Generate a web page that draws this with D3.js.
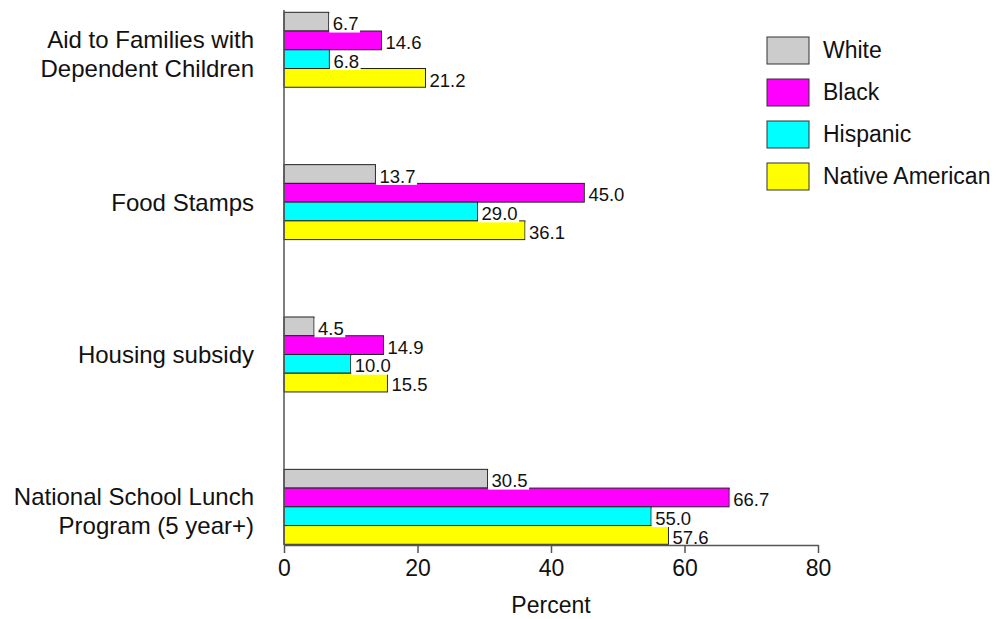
<!DOCTYPE html>
<html><head><meta charset="utf-8">
<script src="https://cdn.jsdelivr.net/npm/d3@7"></script>
<style>body{margin:0;background:#fff}svg{display:block}text{font-family:"Liberation Sans",Arial,sans-serif}</style>
</head><body><svg id="c" width="1004" height="619"></svg>
<script>
const categories = [["Aid to Families with","Dependent Children"],["Food Stamps"],["Housing subsidy"],["National School Lunch","Program (5 year+)"]];
const seriesNames = ["White","Black","Hispanic","Native American"];
const seriesColors = ["#cccccc","#ff00ff","#00ffff","#ffff00"];
const white = [6.7,13.7,4.5,30.5];
const black = [14.6,45.0,14.9,66.7];
const hispanic = [6.8,29.0,10.0,55.0];
const nativeAm = [21.2,36.1,15.5,57.6];
const xTicks = [0,20,40,60,80];
const series = [white,black,hispanic,nativeAm];

const svg = d3.select("#c");
const x = d3.scaleLinear().domain([0,80]).range([284,818]);
const y = d3.scaleBand().domain(d3.range(categories.length)).range([12.3,544.3]).paddingInner(0.508).paddingOuter(0);
const inner = d3.scaleBand().domain(d3.range(series.length)).range([0,y.bandwidth()]);

// bars
series.forEach((vals,si)=>{
  const g = svg.append("g");
  vals.forEach((v,ci)=>{
    const by = y(ci)+inner(si);
    g.append("rect").attr("x",x(0)).attr("y",by).attr("width",x(v)-x(0)).attr("height",inner.bandwidth())
      .attr("fill",seriesColors[si]).attr("stroke","#222").attr("stroke-width",1);
  });
});
// labels
series.forEach((vals,si)=>{
  vals.forEach((v,ci)=>{
    const by = y(ci)+inner(si);
    const t = svg.append("text").attr("x",x(v)+4).attr("y",by+18)
      .attr("font-size",18.5).attr("fill","#111").text(v.toFixed(1));
    const bb = t.node().getBBox();
    svg.insert("rect", function(){return t.node();}).attr("x",x(v)+0.5).attr("y",by+1.5).attr("width",bb.width+5).attr("height",inner.bandwidth())
      .attr("fill","#fff");
  });
});

// x axis
const xa = svg.append("g").attr("transform","translate(0,545)")
  .call(d3.axisBottom(x).tickValues(xTicks).tickSize(8).tickPadding(7).tickSizeOuter(0));
xa.select(".domain").attr("stroke","#555").attr("stroke-width",1.5);
xa.selectAll(".tick line").attr("stroke","#555").attr("stroke-width",1.5);
xa.selectAll(".tick text").attr("font-size",23).attr("fill","#111").attr("font-family","Liberation Sans, Arial, sans-serif");

// y axis line
svg.append("line").attr("x1",x(0)).attr("x2",x(0)).attr("y1",10).attr("y2",545).attr("stroke","#555").attr("stroke-width",1.5);

// category labels
categories.forEach((lines,ci)=>{
  const cy = y(ci)+y.bandwidth()/2;
  lines.forEach((ln,li)=>{
    const by = lines.length>1 ? cy - 2 + li*29 : cy + 9;
    svg.append("text").attr("x",254).attr("y",by)
      .attr("text-anchor","end").attr("font-size",24).attr("fill","#111").text(ln);
  });
});

// axis title
svg.append("text").attr("x",(x(0)+x(80))/2).attr("y",613).attr("text-anchor","middle").attr("font-size",23).attr("fill","#111").text("Percent");

// legend
seriesNames.forEach((n,i)=>{
  const ly = 37 + i*42;
  svg.append("rect").attr("x",767).attr("y",ly).attr("width",42).attr("height",27).attr("fill",seriesColors[i]).attr("stroke","#333");
  svg.append("text").attr("x",823).attr("y",ly+21).attr("font-size",23).attr("fill","#111").text(n);
});
</script></body></html>
